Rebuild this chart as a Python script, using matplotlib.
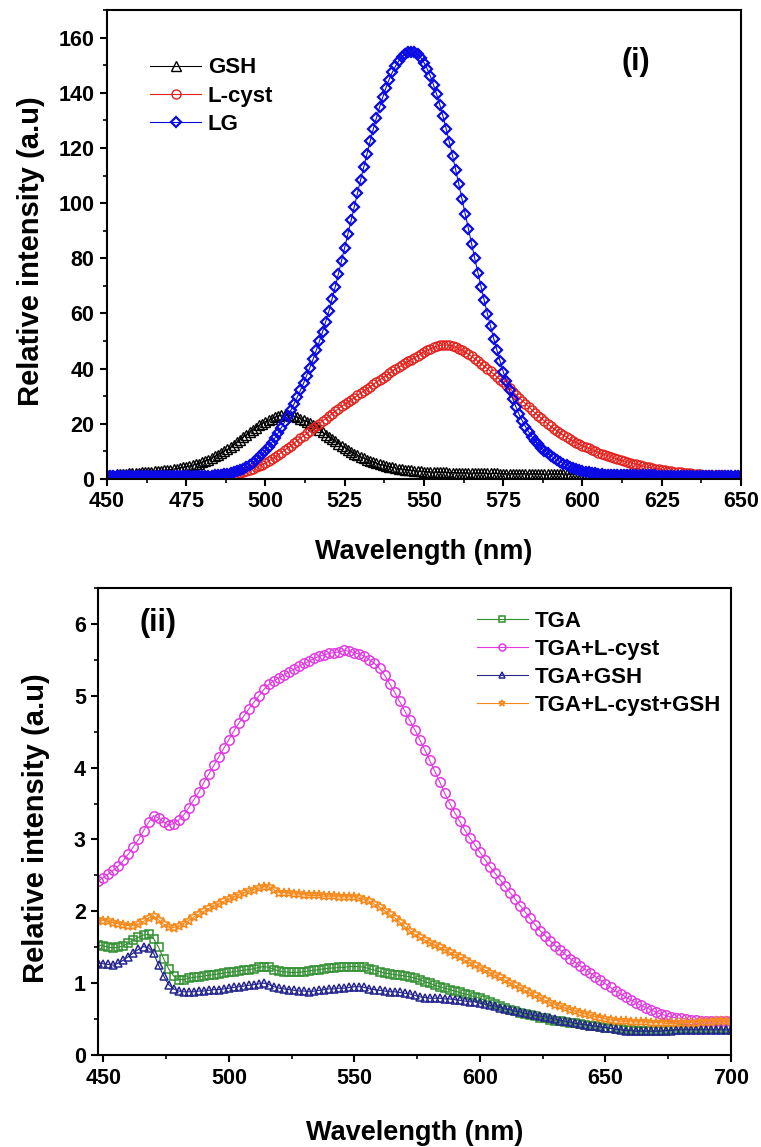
import numpy as np
import matplotlib
matplotlib.use("Agg")
import matplotlib.pyplot as plt
from matplotlib.ticker import MultipleLocator

plt.rcParams['font.family'] = ['Liberation Sans', 'DejaVu Sans']
plt.rcParams['font.weight'] = 'bold'
plt.rcParams['axes.labelweight'] = 'bold'

# ---- panel (i): 450-650 nm, 1 nm step ----
wl_top = np.arange(450, 651)

gsh = [
    1.5, 1.6, 1.6, 1.7, 1.8, 1.8, 1.9, 2.0, 2.1, 2.2,          # 450
    2.3, 2.4, 2.5, 2.6, 2.7, 2.8, 2.9, 3.0, 3.1, 3.25,         # 460
    3.4, 3.6, 3.8, 4.0, 4.2, 4.5, 4.7, 5.0, 5.3, 5.6,          # 470
    6.0, 6.5, 7.0, 7.6, 8.2, 8.8, 9.4, 10.0, 10.7, 11.5,       # 480
    12.4, 13.3, 14.2, 15.2, 16.1, 17.0, 17.8, 18.6, 19.4, 20.1,  # 490
    20.8, 21.4, 21.9, 22.4, 22.8, 23.1, 23.2, 23.2, 23.0, 22.7,  # 500
    22.3, 21.9, 21.4, 20.8, 20.2, 19.5, 18.7, 17.9, 17.0, 16.1,  # 510
    15.2, 14.4, 13.6, 12.8, 12.0, 11.3, 10.6, 9.9, 9.2, 8.6,   # 520
    8.0, 7.5, 7.0, 6.5, 6.1, 5.7, 5.3, 5.0, 4.7, 4.4,          # 530
    4.2, 4.0, 3.8, 3.6, 3.4, 3.3, 3.1, 3.0, 2.9, 2.8,          # 540
    2.7, 2.6, 2.6, 2.5, 2.5, 2.4, 2.4, 2.4, 2.3, 2.3,          # 550
    2.3, 2.2, 2.2, 2.2, 2.2, 2.1, 2.1, 2.1, 2.1, 2.0,          # 560
    2.0, 2.0, 2.0, 2.0, 1.9, 1.9, 1.9, 1.9, 1.9, 1.9,          # 570
    1.9, 1.9, 1.9, 1.9, 1.9, 1.9, 1.8, 1.8, 1.8, 1.8,          # 580
    1.8, 1.8, 1.8, 1.8, 1.8, 1.8, 1.8, 1.8, 1.8, 1.8,          # 590
    1.8, 1.7, 1.7, 1.7, 1.7, 1.7, 1.7, 1.7, 1.7, 1.7,          # 600
    1.7, 1.7, 1.7, 1.7, 1.7, 1.7, 1.7, 1.7, 1.7, 1.7,          # 610
    1.7, 1.6, 1.6, 1.6, 1.6, 1.6, 1.6, 1.6, 1.6, 1.6,          # 620
    1.6, 1.6, 1.6, 1.6, 1.6, 1.6, 1.6, 1.6, 1.6, 1.6,          # 630
    1.6, 1.5, 1.5, 1.5, 1.5, 1.5, 1.5, 1.5, 1.5, 1.5,          # 640
    1.5,                                                       # 650
]

lcyst = [
    0.8, 0.8, 0.8, 0.8, 0.8, 0.8, 0.8, 0.8, 0.8, 0.8,          # 450
    0.8, 0.8, 0.8, 0.8, 0.8, 0.8, 0.8, 0.8, 0.8, 0.8,          # 460
    0.8, 0.8, 0.8, 0.8, 0.8, 0.8, 0.8, 0.8, 0.8, 0.8,          # 470
    0.8, 0.8, 0.8, 0.8, 0.8, 0.8, 0.8, 0.9, 1.0, 1.2,          # 480
    1.5, 1.8, 2.1, 2.5, 2.9, 3.3, 3.7, 4.2, 4.7, 5.2,          # 490
    5.8, 6.5, 7.2, 8.0, 8.8, 9.6, 10.4, 11.3, 12.1, 13.0,      # 500
    13.9, 14.8, 15.6, 16.5, 17.4, 18.3, 19.2, 20.1, 21.0, 21.9,  # 510
    22.8, 23.7, 24.6, 25.5, 26.3, 27.1, 27.9, 28.7, 29.5, 30.3,  # 520
    31.1, 31.9, 32.7, 33.5, 34.3, 35.1, 35.9, 36.7, 37.5, 38.3,  # 530
    39.1, 39.9, 40.5, 41.2, 41.9, 42.6, 43.3, 44.0, 44.7, 45.4,  # 540
    46.1, 46.7, 47.2, 47.7, 48.1, 48.4, 48.6, 48.6, 48.4, 48.1,  # 550
    47.7, 47.2, 46.6, 45.9, 45.2, 44.4, 43.6, 42.7, 41.8, 40.9,  # 560
    40.0, 39.0, 38.0, 37.0, 36.0, 35.0, 33.9, 32.8, 31.7, 30.6,  # 570
    29.5, 28.4, 27.3, 26.2, 25.1, 24.0, 23.0, 22.0, 21.0, 20.0,  # 580
    19.1, 18.2, 17.4, 16.6, 15.8, 15.1, 14.4, 13.8, 13.2, 12.6,  # 590
    12.1, 11.6, 11.1, 10.6, 10.1, 9.6, 9.2, 8.8, 8.4, 8.0,     # 600
    7.6, 7.2, 6.8, 6.5, 6.2, 5.9, 5.6, 5.3, 5.0, 4.7,          # 610
    4.4, 4.2, 4.0, 3.8, 3.6, 3.4, 3.2, 3.0, 2.8, 2.7,          # 620
    2.5, 2.4, 2.2, 2.1, 2.0, 1.9, 1.8, 1.7, 1.6, 1.5,          # 630
    1.5, 1.4, 1.4, 1.3, 1.3, 1.2, 1.2, 1.2, 1.1, 1.1,          # 640
    1.1,                                                       # 650
]

lg = [
    1.0, 1.0, 1.0, 1.0, 1.0, 1.0, 1.0, 1.0, 1.0, 1.0,          # 450
    1.0, 1.0, 1.0, 1.0, 1.0, 1.0, 1.0, 1.0, 1.0, 1.0,          # 460
    1.0, 1.0, 1.0, 1.0, 1.0, 1.0, 1.0, 1.0, 1.0, 1.0,          # 470
    1.0, 1.0, 1.1, 1.2, 1.3, 1.4, 1.5, 1.7, 1.9, 2.2,          # 480
    2.5, 2.9, 3.3, 3.8, 4.4, 5.1, 5.9, 6.8, 7.8, 8.9,          # 490
    10.2, 11.6, 13.2, 14.9, 16.7, 18.6, 20.6, 22.7, 24.9, 27.2,  # 500
    29.6, 32.1, 34.7, 37.5, 40.4, 43.4, 46.6, 49.9, 53.3, 57.0,  # 510
    60.8, 65.2, 69.7, 74.3, 79.1, 83.9, 88.8, 93.7, 98.6, 103.5,  # 520
    108.4, 113.1, 117.9, 122.4, 126.8, 130.9, 134.8, 138.4, 141.8, 144.8,  # 530
    147.4, 149.6, 151.5, 152.9, 154.0, 154.6, 154.8, 154.7, 154.0, 152.7,  # 540
    150.9, 148.7, 146.0, 142.9, 139.4, 135.6, 131.4, 126.9, 122.1, 117.2,  # 550
    112.1, 106.8, 101.5, 96.1, 90.7, 85.3, 80.0, 74.8, 69.7, 64.7,  # 560
    59.9, 55.3, 50.9, 46.7, 42.7, 38.9, 35.4, 32.1, 29.0, 26.2,  # 570
    23.4, 21.1, 19.0, 17.1, 15.4, 13.9, 12.6, 11.4, 10.3, 9.3,  # 580
    8.4, 7.6, 6.9, 6.2, 5.6, 5.0, 4.5, 4.0, 3.6, 3.2,          # 590
    2.9, 2.6, 2.4, 2.2, 2.0, 1.8, 1.7, 1.6, 1.5, 1.4,          # 600
    1.4, 1.3, 1.3, 1.3, 1.3, 1.3, 1.3, 1.3, 1.3, 1.3,          # 610
    1.3, 1.3, 1.3, 1.3, 1.2, 1.2, 1.2, 1.2, 1.2, 1.2,          # 620
    1.2, 1.2, 1.2, 1.2, 1.2, 1.2, 1.2, 1.2, 1.2, 1.2,          # 630
    1.2, 1.2, 1.2, 1.2, 1.2, 1.2, 1.2, 1.2, 1.2, 1.2,          # 640
    1.2,                                                       # 650
]

# ---- panel (ii): 448-700 nm, 2 nm step ----
wl_bot = np.arange(448, 701, 2)

tga = [
    1.53, 1.52, 1.50, 1.49, 1.50, 1.52, 1.56, 1.60, 1.64, 1.67,  # 448
    1.68, 1.62, 1.50, 1.34, 1.20, 1.10, 1.05, 1.05, 1.07, 1.08,  # 468
    1.09, 1.10, 1.11, 1.12, 1.13, 1.14, 1.15, 1.16, 1.17, 1.18,  # 488
    1.19, 1.20, 1.22, 1.23, 1.22, 1.19, 1.17, 1.16, 1.15, 1.15,  # 508
    1.15, 1.16, 1.17, 1.18, 1.19, 1.20, 1.21, 1.21, 1.22, 1.22,  # 528
    1.23, 1.23, 1.23, 1.22, 1.20, 1.18, 1.16, 1.14, 1.13, 1.12,  # 548
    1.11, 1.10, 1.09, 1.07, 1.05, 1.02, 1.00, 0.97, 0.95, 0.93,  # 568
    0.91, 0.89, 0.87, 0.85, 0.83, 0.81, 0.79, 0.76, 0.74, 0.71,  # 588
    0.68, 0.65, 0.63, 0.61, 0.59, 0.57, 0.55, 0.54, 0.52, 0.51,  # 608
    0.49, 0.48, 0.47, 0.46, 0.45, 0.44, 0.43, 0.42, 0.41, 0.40,  # 628
    0.39, 0.38, 0.37, 0.36, 0.36, 0.35, 0.35, 0.34, 0.34, 0.34,  # 648
    0.34, 0.34, 0.34, 0.35, 0.35, 0.35, 0.36, 0.36, 0.36, 0.36,  # 668
    0.36, 0.36, 0.36, 0.36, 0.36, 0.36, 0.36,                    # 688
]

tga_lcyst = [
    2.42, 2.47, 2.52, 2.57, 2.63, 2.71, 2.80, 2.90, 3.00, 3.12,  # 448
    3.24, 3.33, 3.30, 3.24, 3.20, 3.22, 3.27, 3.34, 3.44, 3.55,  # 468
    3.66, 3.79, 3.91, 4.03, 4.15, 4.27, 4.39, 4.51, 4.62, 4.72,  # 488
    4.82, 4.91, 5.00, 5.09, 5.16, 5.21, 5.25, 5.29, 5.33, 5.37,  # 508
    5.41, 5.45, 5.48, 5.52, 5.55, 5.57, 5.59, 5.60, 5.61, 5.63,  # 528
    5.62, 5.60, 5.58, 5.55, 5.50, 5.45, 5.38, 5.29, 5.17, 5.05,  # 548
    4.92, 4.79, 4.66, 4.53, 4.39, 4.25, 4.10, 3.95, 3.80, 3.64,  # 568
    3.50, 3.37, 3.25, 3.13, 3.02, 2.92, 2.82, 2.72, 2.62, 2.53,  # 588
    2.44, 2.35, 2.26, 2.17, 2.08, 1.99, 1.90, 1.81, 1.73, 1.66,  # 608
    1.59, 1.52, 1.46, 1.40, 1.34, 1.29, 1.24, 1.19, 1.14, 1.09,  # 628
    1.04, 0.99, 0.94, 0.89, 0.85, 0.81, 0.77, 0.73, 0.69, 0.66,  # 648
    0.63, 0.60, 0.57, 0.55, 0.53, 0.52, 0.51, 0.50, 0.49, 0.49,  # 668
    0.48, 0.48, 0.48, 0.47, 0.47, 0.47, 0.47,                    # 688
]

tga_gsh = [
    1.28, 1.27, 1.26, 1.25, 1.28, 1.32, 1.37, 1.42, 1.47, 1.51,  # 448
    1.49, 1.42, 1.25, 1.10, 0.98, 0.92, 0.89, 0.88, 0.88, 0.88,  # 468
    0.89, 0.89, 0.90, 0.91, 0.91, 0.92, 0.93, 0.94, 0.95, 0.96,  # 488
    0.97, 0.98, 0.99, 1.00, 0.98, 0.95, 0.93, 0.92, 0.91, 0.90,  # 508
    0.89, 0.89, 0.88, 0.89, 0.90, 0.91, 0.92, 0.92, 0.93, 0.93,  # 528
    0.94, 0.95, 0.95, 0.94, 0.92, 0.91, 0.90, 0.89, 0.88, 0.88,  # 548
    0.87, 0.86, 0.85, 0.83, 0.81, 0.80, 0.79, 0.79, 0.79, 0.78,  # 568
    0.78, 0.77, 0.76, 0.75, 0.74, 0.74, 0.72, 0.71, 0.69, 0.68,  # 588
    0.66, 0.64, 0.63, 0.61, 0.60, 0.58, 0.57, 0.55, 0.54, 0.53,  # 608
    0.51, 0.50, 0.48, 0.47, 0.46, 0.44, 0.43, 0.42, 0.41, 0.40,  # 628
    0.39, 0.38, 0.37, 0.36, 0.35, 0.34, 0.34, 0.33, 0.33, 0.33,  # 648
    0.33, 0.33, 0.33, 0.34, 0.34, 0.35, 0.35, 0.35, 0.35, 0.35,  # 668
    0.35, 0.35, 0.35, 0.35, 0.35, 0.35, 0.35,                    # 688
]

tga_lcyst_gsh = [
    1.88, 1.87, 1.86, 1.84, 1.83, 1.81, 1.80, 1.80, 1.82, 1.86,  # 448
    1.91, 1.93, 1.88, 1.82, 1.78, 1.77, 1.79, 1.83, 1.87, 1.92,  # 468
    1.96, 2.00, 2.04, 2.07, 2.10, 2.14, 2.17, 2.20, 2.23, 2.26,  # 488
    2.28, 2.30, 2.32, 2.34, 2.34, 2.30, 2.26, 2.26, 2.25, 2.24,  # 508
    2.24, 2.23, 2.22, 2.22, 2.22, 2.21, 2.21, 2.21, 2.20, 2.20,  # 528
    2.20, 2.20, 2.18, 2.16, 2.14, 2.10, 2.06, 2.01, 1.96, 1.91,  # 548
    1.85, 1.79, 1.73, 1.68, 1.64, 1.60, 1.56, 1.53, 1.50, 1.46,  # 568
    1.43, 1.39, 1.36, 1.32, 1.28, 1.25, 1.21, 1.18, 1.14, 1.11,  # 588
    1.08, 1.04, 1.00, 0.97, 0.93, 0.90, 0.86, 0.83, 0.79, 0.76,  # 608
    0.73, 0.70, 0.68, 0.65, 0.63, 0.61, 0.59, 0.57, 0.55, 0.53,  # 628
    0.52, 0.50, 0.49, 0.48, 0.47, 0.47, 0.46, 0.46, 0.46, 0.46,  # 648
    0.45, 0.45, 0.45, 0.44, 0.44, 0.44, 0.44, 0.45, 0.45, 0.45,  # 668
    0.46, 0.46, 0.46, 0.47, 0.47, 0.47, 0.47,                    # 688
]

TICK_FS = 15.5
XLABEL_FS = 19.5
YLABEL_FS = 21
LEG_FS = 16


def style_axes(ax):
    for sp in ax.spines.values():
        sp.set_linewidth(1.5)
    ax.tick_params(which='major', direction='out', length=5, width=1.5,
                   labelsize=TICK_FS, pad=4)
    ax.tick_params(which='minor', direction='out', length=3, width=1.2)
    ax.tick_params(top=False, right=False)
    for lab in ax.get_xticklabels() + ax.get_yticklabels():
        lab.set_fontweight('bold')


fig = plt.figure(figsize=(7.61, 11.47), dpi=100)

# panel (i)
ax1 = fig.add_axes([0.1406, 0.5824, 0.8331, 0.4089])
ax1.plot(wl_top, gsh, '-^', color='black', lw=0.8, ms=6.5, mfc='none', mew=1.0, label='GSH')
ax1.plot(wl_top, lcyst, '-o', color='#e3211c', lw=0.8, ms=6.5, mfc='none', mew=1.0, label='L-cyst')
ax1.plot(wl_top, lg, '-D', color='#0a0ae6', lw=0.8, ms=5.5, mfc='none', mew=1.6, label='LG')
ax1.set_xlim(450, 650)
ax1.set_ylim(0, 170)
ax1.xaxis.set_major_locator(MultipleLocator(25))
ax1.xaxis.set_minor_locator(MultipleLocator(12.5))
ax1.yaxis.set_major_locator(MultipleLocator(20))
ax1.yaxis.set_minor_locator(MultipleLocator(10))
ax1.set_xlabel('Wavelength (nm)', fontsize=XLABEL_FS, fontweight='bold')
ax1.set_ylabel('Relative intensity (a.u)', fontsize=YLABEL_FS, fontweight='bold')
ax1.xaxis.set_label_coords(0.5, -0.128)
ax1.yaxis.set_label_coords(-0.098, 0.485)
style_axes(ax1)
ax1.text(0.834, 0.89, '(i)', transform=ax1.transAxes, fontsize=22,
         fontweight='bold', ha='center', va='center')
ax1.legend(loc='upper left', bbox_to_anchor=(0.068, 0.899), frameon=False,
           prop={'weight': 'bold', 'size': LEG_FS},
           handlelength=2.3, handletextpad=0.3, labelspacing=0.33,
           borderpad=0, borderaxespad=0, numpoints=1)

# panel (ii)
ax2 = fig.add_axes([0.1292, 0.0802, 0.8314, 0.4072])
ax2.plot(wl_bot, tga, '-s', color='#2f8f2f', lw=0.8, ms=5.5, mfc='none', mew=1.1, label='TGA')
ax2.plot(wl_bot, tga_lcyst, '-o', color='#e03ce0', lw=0.8, ms=6.8, mfc='none', mew=1.1, label='TGA+L-cyst')
ax2.plot(wl_bot, tga_gsh, '-^', color='#262690', lw=0.8, ms=6, mfc='none', mew=1.1, label='TGA+GSH')
ax2.plot(wl_bot, tga_lcyst_gsh, '-*', color='#f68a1c', lw=0.8, ms=7.5, mfc='none', mew=1.1,
         label='TGA+L-cyst+GSH')
ax2.set_xlim(448, 700)
ax2.set_ylim(0, 6.5)
ax2.xaxis.set_major_locator(MultipleLocator(50))
ax2.xaxis.set_minor_locator(MultipleLocator(25))
ax2.yaxis.set_major_locator(MultipleLocator(1))
ax2.yaxis.set_minor_locator(MultipleLocator(0.5))
ax2.set_xlabel('Wavelength (nm)', fontsize=XLABEL_FS, fontweight='bold')
ax2.set_ylabel('Relative intensity (a.u)', fontsize=YLABEL_FS, fontweight='bold')
ax2.xaxis.set_label_coords(0.5, -0.14)
ax2.yaxis.set_label_coords(-0.076, 0.485)
style_axes(ax2)
ax2.text(0.094, 0.925, '(ii)', transform=ax2.transAxes, fontsize=22,
         fontweight='bold', ha='center', va='center')
leg2 = ax2.legend(loc='upper left', bbox_to_anchor=(0.598, 0.951), frameon=False,
                  prop={'weight': 'bold', 'size': LEG_FS},
                  handlelength=2.3, handletextpad=0.3, labelspacing=0.32,
                  borderpad=0, borderaxespad=0, numpoints=1)
for h in leg2.legend_handles:
    h.set_markersize(5)

fig.savefig('out.png', dpi=100)
